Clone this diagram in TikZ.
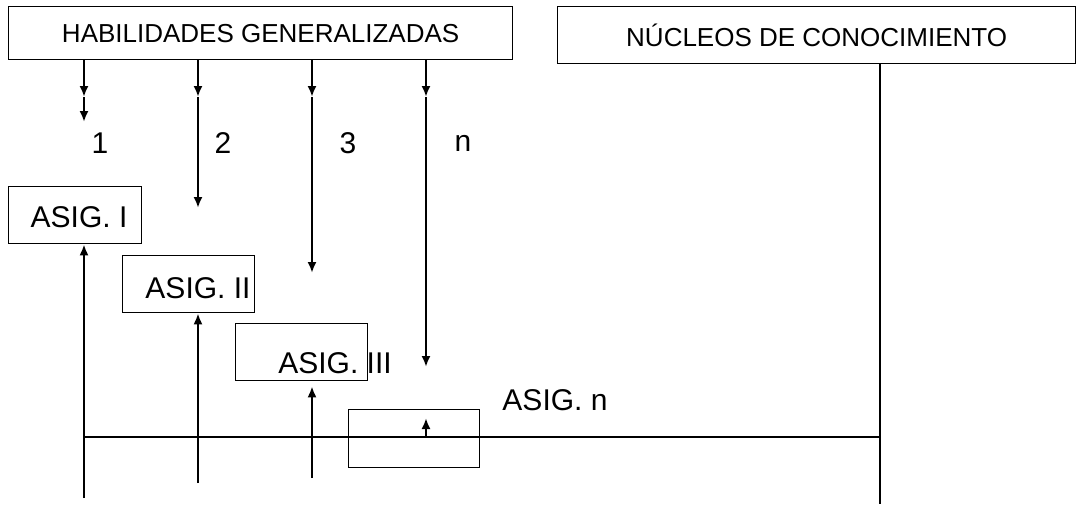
\documentclass[tikz,border=0pt]{standalone}
\usepackage{fontspec}
\setmainfont{Liberation Sans}
\usetikzlibrary{arrows.meta}

\begin{document}
\begin{tikzpicture}[x=1pt,y=-1pt,>={Latex[length=11pt,width=9pt]},
	caja/.style={draw,line width=1.3pt,inner sep=0pt,anchor=north west},
	linea/.style={line width=2.3pt},
	titulo/.style={font=\fontsize{26}{30}\selectfont},
	texto/.style={font=\fontsize{30}{34}\selectfont}]
	\useasboundingbox (0,0) rectangle (1077,504);
	% Encabezados
	\node[caja,titulo,minimum width=504pt,minimum height=53pt] (hab) at (8,6) {HABILIDADES GENERALIZADAS};
	\node[caja,titulo,minimum width=518pt,minimum height=57pt] (nuc) at (557,6) {NÚCLEOS DE CONOCIMIENTO};
	% Asignaturas
	\node[caja,minimum width=133pt,minimum height=57pt] (asig1) at (8,186) {};
	\node[caja,minimum width=132pt,minimum height=57pt] (asig2) at (122,255) {};
	\node[caja,minimum width=132pt,minimum height=57pt] (asig3) at (235,323) {};
	\node[caja,minimum width=131pt,minimum height=58pt] (asig4) at (348,409) {};
	\node[texto] (t1) at (79,217) {ASIG. I};
	\node[texto] (t2) at (198,288) {ASIG. II};
	\node[texto] (t3) at (335,363) {ASIG. III};
	\node[texto] (t4) at (555,400) {ASIG. n};
	% Flechas de las habilidades
	\foreach \x/\y/\n/\lx [count=\i] in {84/122/1/100,198/208/2/223,312/273/3/348,426/367/n/463}{
		\coordinate (m\i) at (\x,97);
		\coordinate (b\i) at (\x,\y);
		\draw[linea,->] (hab.south -| m\i) -- (m\i);
		\draw[linea,->] (m\i) -- (b\i);
		\node[texto] (n\i) at (\lx,143) {\n};
	}
	% Eje de los nucleos
	\coordinate (h1) at (84,437);
	\coordinate (h2) at (880,437);
	\coordinate (v2) at (880,504);
	\draw[linea] (nuc.south -| h2) -- (v2);
	\draw[linea] (h1) -- (h2);
	% Flechas hacia las asignaturas
	\coordinate (u1) at (84,498);
	\coordinate (u2) at (198,483);
	\coordinate (u3) at (312,478);
	\coordinate (u4) at (426,437);
	\draw[linea,->] (u1) -- (asig1.south -| u1);
	\draw[linea,->] (u2) -- (asig2.south -| u2);
	\draw[linea,->] (u3) -- ([yshift=-5pt]asig3.south -| u3);
	\draw[linea,->] (u4) -- ([yshift=-9pt]asig4.north -| u4);
\end{tikzpicture}
\end{document}
